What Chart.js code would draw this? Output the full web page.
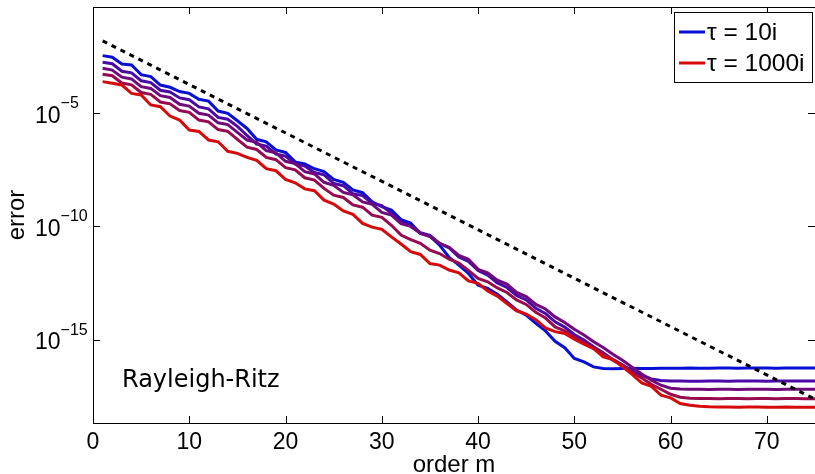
<!DOCTYPE html>
<html>
<head>
<meta charset="utf-8">
<script src="https://cdn.jsdelivr.net/npm/chart.js@4.4.1/dist/chart.umd.min.js"></script>
<style>
  html, body { margin: 0; padding: 0; background: #fff; }
  canvas { display: block; }
</style>
</head>
<body>
<canvas id="rr" width="815" height="474"></canvas>
<script>
// order m (x values)
const orders = [1,2,3,4,5,6,7,8,9,10,11,12,13,14,15,16,17,18,19,20,21,22,23,24,25,
  26,27,28,29,30,31,32,33,34,35,36,37,38,39,40,41,42,43,44,45,46,47,48,49,50,
  51,52,53,54,55,56,57,58,59,60,61,62,63,64,65,66,67,68,69,70,71,72,73,74,75];

// log10(error), tau = 10i ... 1000i
const logErrA = [-2.45,-2.52,-2.82,-2.86,-3.29,-3.38,-3.75,-3.85,-4.04,-4.12,
  -4.38,-4.46,-4.90,-5.00,-5.33,-5.67,-6.15,-6.26,-6.62,-6.73,
  -7.15,-7.24,-7.45,-7.58,-7.92,-8.05,-8.39,-8.51,-8.91,-9.13,
  -9.28,-9.70,-9.85,-10.31,-10.43,-10.83,-11.37,-11.71,-12.08,-12.60,
  -12.74,-13.00,-13.34,-13.70,-13.92,-14.29,-14.62,-15.08,-15.36,-15.84,
  -15.99,-16.21,-16.28,-16.29,-16.28,-16.27,-16.28,-16.28,-16.27,-16.27,
  -16.27,-16.26,-16.27,-16.27,-16.26,-16.26,-16.27,-16.26,-16.26,-16.26,
  -16.27,-16.26,-16.26,-16.26,-16.26];
const logErrB = [-2.74,-2.81,-3.14,-3.21,-3.56,-3.64,-3.98,-4.06,-4.32,-4.40,
  -4.72,-4.80,-5.18,-5.26,-5.58,-5.98,-6.36,-6.45,-6.80,-6.89,
  -7.24,-7.33,-7.62,-7.72,-8.10,-8.20,-8.55,-8.64,-8.98,-9.08,
  -9.42,-9.80,-9.98,-10.28,-10.40,-10.75,-10.95,-11.35,-11.55,-11.95,
  -12.15,-12.50,-12.70,-13.05,-13.25,-13.62,-13.85,-14.22,-14.45,-14.78,
  -15.02,-15.32,-15.58,-15.88,-16.12,-16.38,-16.58,-16.74,-16.81,-16.83,
  -16.83,-16.84,-16.84,-16.83,-16.83,-16.84,-16.83,-16.83,-16.83,-16.84,
  -16.83,-16.83,-16.83,-16.83,-16.83];
const logErrC = [-3.01,-3.09,-3.40,-3.48,-3.82,-3.90,-4.22,-4.30,-4.60,-4.68,
  -5.00,-5.08,-5.42,-5.50,-5.84,-6.18,-6.28,-6.65,-6.75,-7.12,
  -7.22,-7.58,-7.68,-8.05,-8.18,-8.50,-8.60,-8.92,-9.02,-9.38,
  -9.50,-9.88,-10.00,-10.30,-10.45,-10.75,-10.92,-11.28,-11.45,-11.90,
  -12.05,-12.38,-12.55,-12.92,-13.10,-13.45,-13.65,-14.00,-14.25,-14.55,
  -14.80,-15.10,-15.35,-15.65,-15.92,-16.22,-16.52,-16.80,-17.02,-17.15,
  -17.19,-17.20,-17.20,-17.21,-17.20,-17.20,-17.21,-17.20,-17.20,-17.20,
  -17.21,-17.20,-17.20,-17.20,-17.20];
const logErrD = [-3.27,-3.34,-3.66,-3.74,-4.08,-4.16,-4.50,-4.58,-4.88,-4.96,
  -5.30,-5.38,-5.72,-5.80,-6.15,-6.50,-6.60,-6.95,-7.05,-7.40,
  -7.50,-7.85,-7.95,-8.32,-8.62,-8.72,-9.05,-9.15,-9.50,-9.60,
  -9.95,-10.38,-10.58,-10.75,-11.05,-11.20,-11.45,-11.62,-11.95,-12.30,
  -12.45,-12.72,-12.92,-13.25,-13.45,-13.80,-14.05,-14.44,-14.62,-14.90,
  -15.12,-15.40,-15.62,-15.92,-16.15,-16.45,-16.70,-16.98,-17.20,-17.42,
  -17.55,-17.60,-17.61,-17.61,-17.62,-17.61,-17.61,-17.62,-17.61,-17.61,
  -17.62,-17.61,-17.61,-17.62,-17.62];
const logErrE = [-3.60,-3.67,-3.75,-4.12,-4.19,-4.63,-4.71,-5.12,-5.30,-5.74,
  -5.80,-6.18,-6.26,-6.68,-6.77,-6.95,-7.08,-7.45,-7.54,-7.92,
  -8.07,-8.34,-8.42,-8.84,-9.01,-9.32,-9.47,-9.87,-10.03,-10.13,
  -10.46,-10.78,-11.12,-11.24,-11.64,-11.71,-11.93,-12.05,-12.41,-12.52,
  -12.85,-13.08,-13.41,-13.73,-13.88,-14.12,-14.49,-14.65,-14.73,-14.99,
  -15.21,-15.40,-15.77,-15.89,-16.21,-16.54,-16.92,-17.07,-17.46,-17.58,
  -17.83,-17.91,-17.95,-17.97,-17.98,-17.98,-17.99,-17.98,-17.98,-17.99,
  -17.99,-17.98,-17.99,-17.99,-17.99];

// dotted reference slope
const refOrders = [1, 75];
const refLogErr = [-1.80, -17.64];

const seriesLabels = ['\u03c4 = 10i', null, null, null, '\u03c4 = 1000i'];
const seriesColors = ['rgb(8,16,214)', 'rgb(72,10,168)', 'rgb(112,10,124)', 'rgb(152,10,80)', 'rgb(214,10,10)'];

const xTicks = [0, 10, 20, 30, 40, 50, 60, 70];
const yTickExps = [-5, -10, -15];

const FONT = "'Liberation Sans', Arial, sans-serif";

function pts(xs, logs) {
  return logs.map((e, i) => ({ x: xs[i], y: Math.pow(10, e) }));
}

const allLogs = [logErrA, logErrB, logErrC, logErrD, logErrE];
const datasets = allLogs.map((logs, i) => ({
  label: seriesLabels[i] || '',
  data: pts(orders, logs),
  borderColor: seriesColors[i],
  borderWidth: 3,
  pointRadius: 0,
  tension: 0,
  fill: false,
  order: allLogs.length - i
}));
datasets.push({
  label: 'ref',
  data: pts(refOrders, refLogErr),
  borderColor: '#000',
  borderWidth: 3,
  borderDash: [5, 5],
  borderCapStyle: 'butt',
  pointRadius: 0,
  fill: false,
  order: -1
});

// axes frame, inward ticks, labels, legend, annotation
const matlabAxes = {
  id: 'matlabAxes',
  afterDraw(chart) {
    const { ctx, chartArea: a, scales: { x, y } } = chart;
    ctx.save();
    ctx.strokeStyle = '#000';
    ctx.lineWidth = 1;
    ctx.strokeRect(a.left + 0.5, a.top + 0.5, a.right - a.left, a.bottom - a.top);

    ctx.beginPath();
    xTicks.forEach(v => {
      const px = Math.round(x.getPixelForValue(v)) + 0.5;
      ctx.moveTo(px, a.bottom); ctx.lineTo(px, a.bottom - 7);
      ctx.moveTo(px, a.top); ctx.lineTo(px, a.top + 7);
    });
    yTickExps.forEach(e => {
      const py = Math.round(y.getPixelForValue(Math.pow(10, e))) + 0.5;
      ctx.moveTo(a.left, py); ctx.lineTo(a.left + 7, py);
      ctx.moveTo(a.right, py); ctx.lineTo(a.right - 7, py);
    });
    ctx.stroke();

    ctx.fillStyle = '#000';
    // x tick labels
    ctx.font = '23px ' + FONT;
    ctx.textAlign = 'center';
    ctx.textBaseline = 'alphabetic';
    xTicks.forEach(v => ctx.fillText(String(v), x.getPixelForValue(v), 449));

    // y tick labels 10^e
    yTickExps.forEach(e => {
      const py = y.getPixelForValue(Math.pow(10, e));
      ctx.font = '23px ' + FONT;
      ctx.textAlign = 'left';
      ctx.fillText('10', 35, py + 9.5);
      const w = ctx.measureText('10').width;
      ctx.font = '16px ' + FONT;
      ctx.fillText('\u2212' + Math.abs(e), 35 + w, py - 5);
    });

    // axis titles
    ctx.font = '24px ' + FONT;
    ctx.textAlign = 'center';
    ctx.fillText('order m', (a.left + a.right) / 2, 472);
    ctx.save();
    ctx.translate(24, (a.top + a.bottom) / 2);
    ctx.rotate(-Math.PI / 2);
    ctx.fillText('error', 0, 0);
    ctx.restore();

    // annotation
    ctx.font = "24px 'DejaVu Sans', sans-serif";
    ctx.textAlign = 'left';
    ctx.fillText('Rayleigh-Ritz', 122, 387);

    // legend
    ctx.fillStyle = '#fff';
    ctx.fillRect(674.5, 12.5, 138, 70);
    ctx.strokeRect(674.5, 12.5, 138, 70);
    const rows = [];
    seriesLabels.forEach((l, i) => { if (l) rows.push([l, seriesColors[i]]); });
    ctx.font = '24.5px ' + FONT;
    ctx.textBaseline = 'middle';
    rows.forEach(([l, c], k) => {
      const ly = 32 + k * 31;
      ctx.strokeStyle = c;
      ctx.lineWidth = 3;
      ctx.beginPath(); ctx.moveTo(679, ly); ctx.lineTo(705, ly); ctx.stroke();
      ctx.fillStyle = '#000';
      ctx.fillText(l, 707, ly + 1);
    });
    ctx.restore();
  }
};

new Chart(document.getElementById('rr'), {
  type: 'line',
  data: { datasets },
  options: {
    responsive: false,
    animation: false,
    layout: { padding: { left: 93, top: 7, right: 0, bottom: 51 } },
    plugins: { legend: { display: false }, tooltip: { enabled: false } },
    scales: {
      x: { type: 'linear', min: 0, max: 75, display: false },
      y: { type: 'logarithmic', min: 2.04e-19, max: 0.5, display: false }
    }
  },
  plugins: [matlabAxes]
});
</script>
</body>
</html>
